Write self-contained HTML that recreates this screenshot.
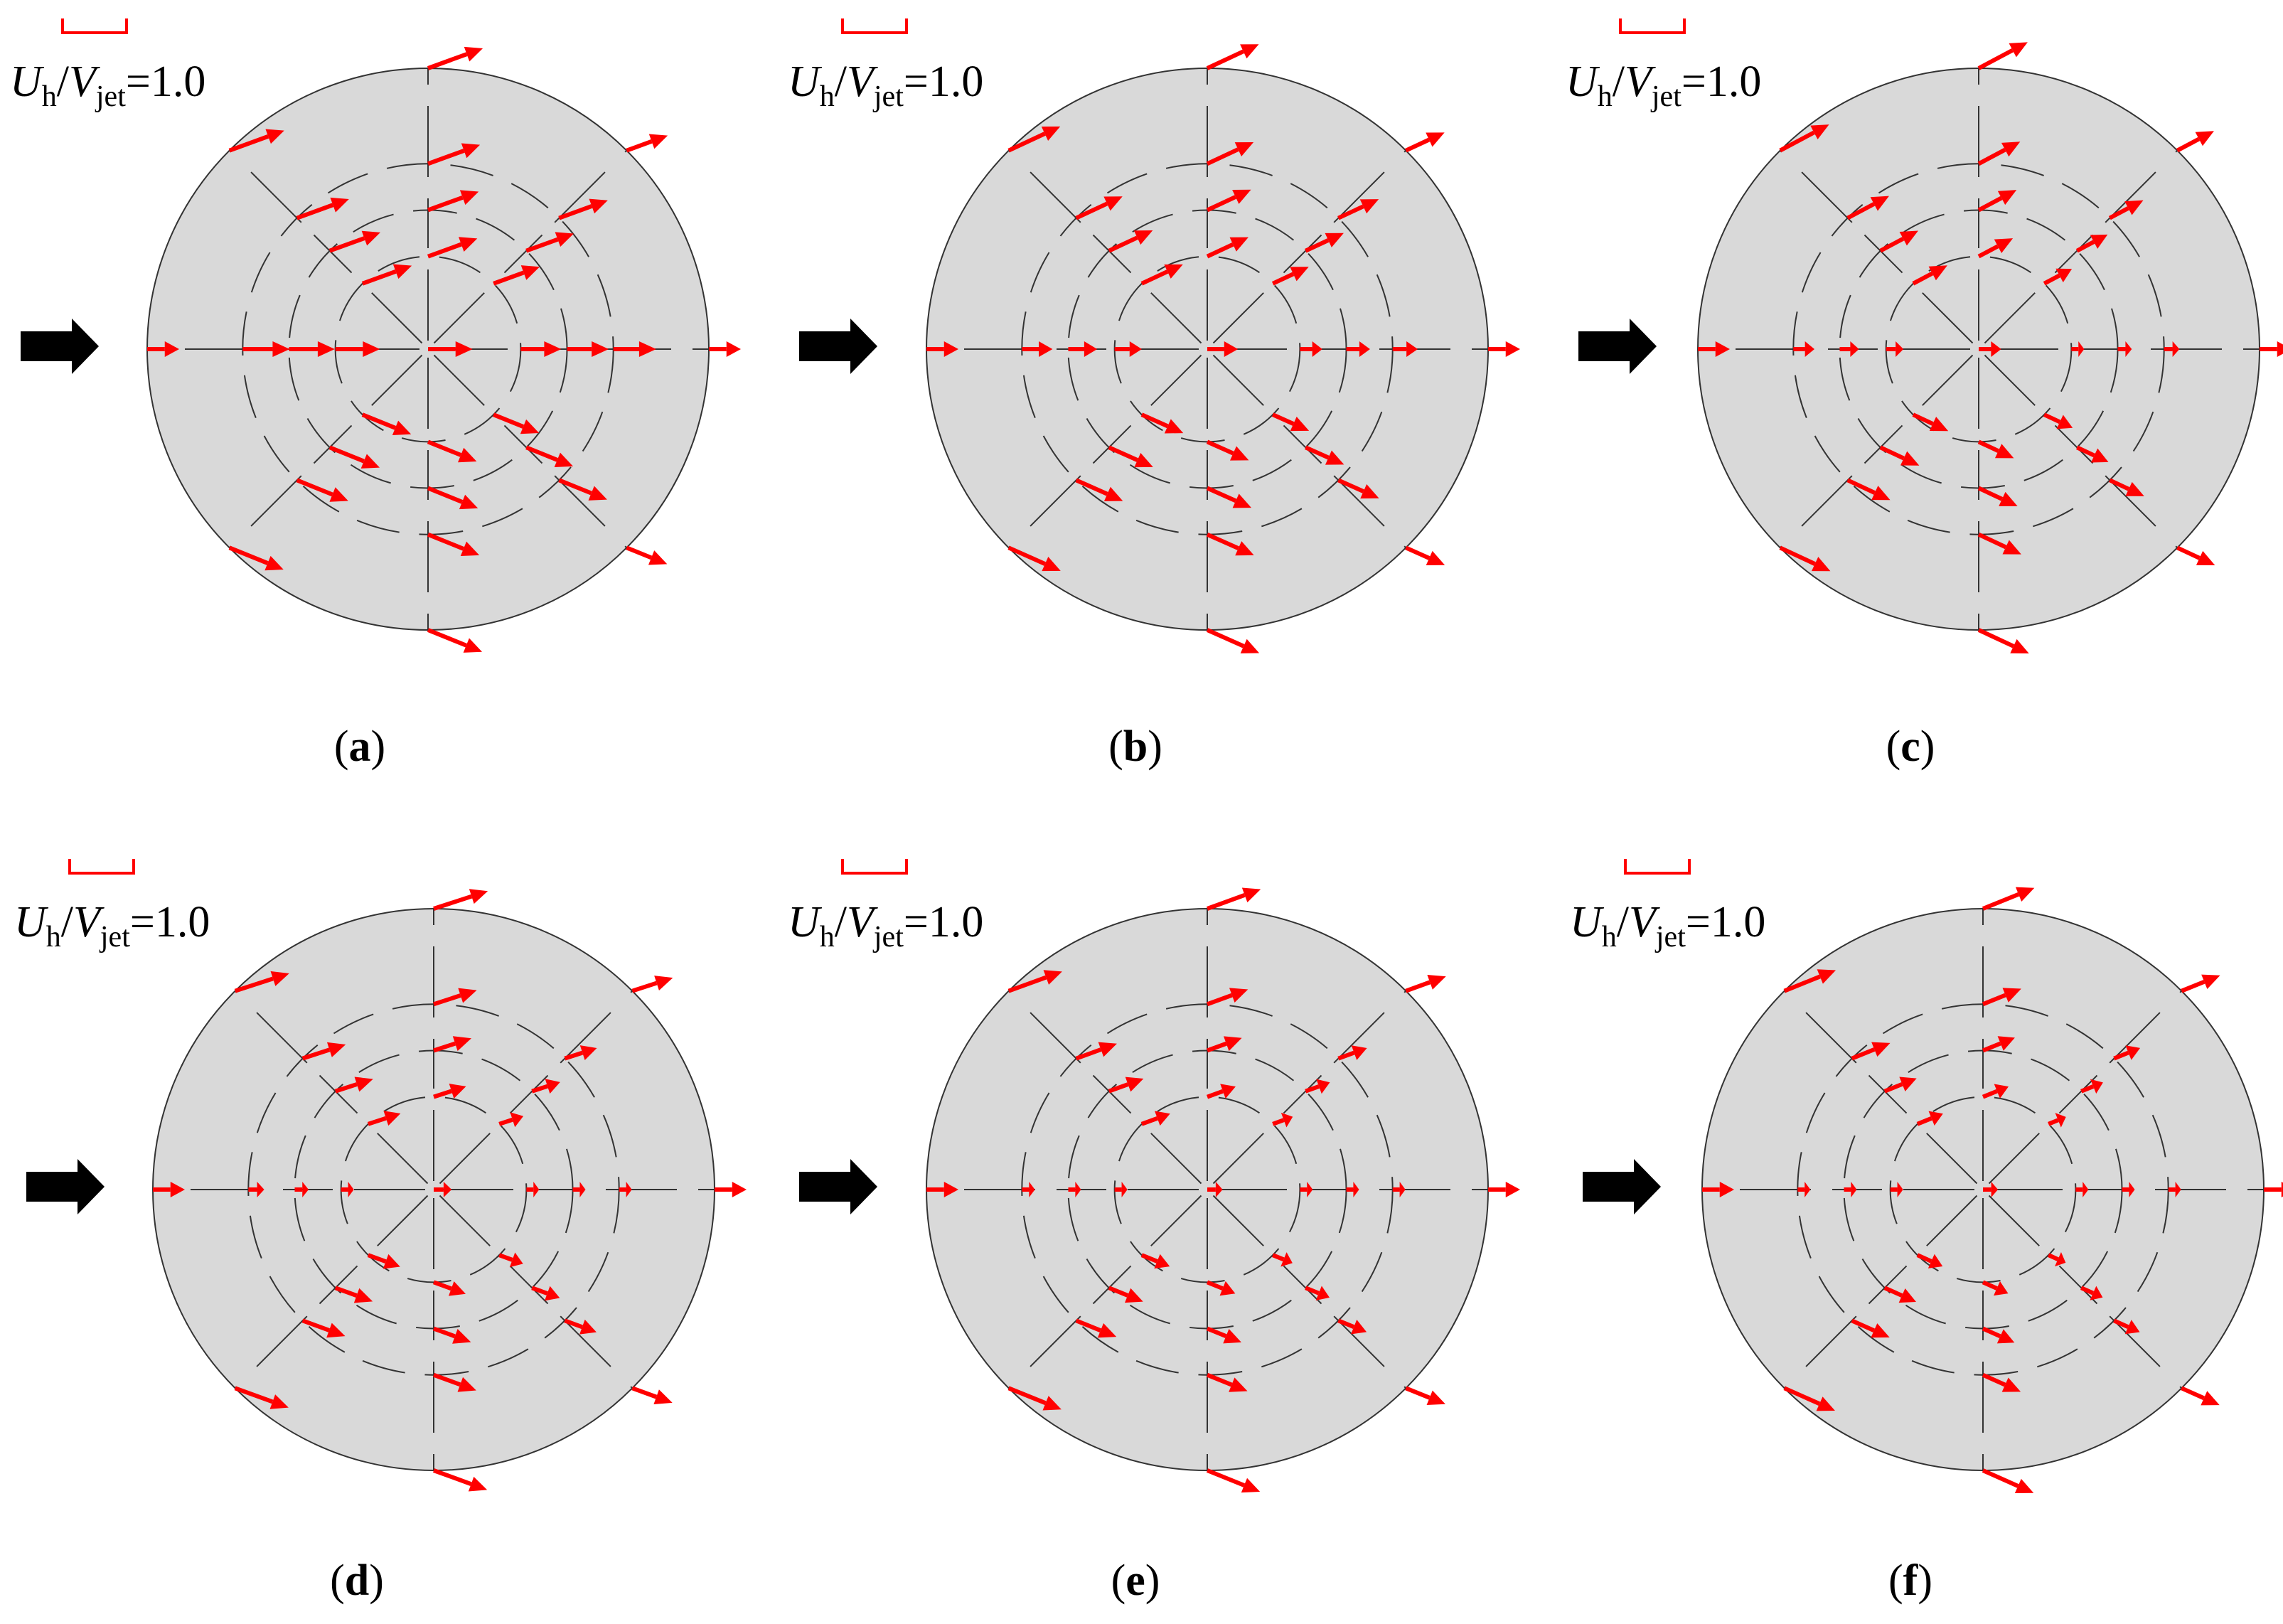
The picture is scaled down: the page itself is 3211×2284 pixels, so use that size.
<!DOCTYPE html>
<html><head><meta charset="utf-8">
<style>
html,body{margin:0;padding:0;background:#fff;}
body{width:3211px;height:2284px;position:relative;overflow:hidden;font-family:"Liberation Serif",serif;}
.lab{position:absolute;font-size:62px;white-space:nowrap;color:#000;}
.lab i{font-style:italic}
.lab sub{font-size:42px;vertical-align:-14px;line-height:0}
.cap{position:absolute;font-size:62px;transform:translateX(-50%);}
.br{position:absolute;width:86px;height:18px;border:4px solid #f00;border-top:none;}
svg{position:absolute;left:0;top:0;}
</style></head><body>
<svg id="s" width="3211" height="2284" xmlns="http://www.w3.org/2000/svg"></svg>

<div class="br" style="left:86px;top:26px"></div>
<div class="lab" style="left:14px;top:80px"><i>U</i><sub>h</sub>/<i>V</i><sub>jet</sub>=1.0</div>
<div class="br" style="left:1183px;top:26px"></div>
<div class="lab" style="left:1108px;top:80px"><i>U</i><sub>h</sub>/<i>V</i><sub>jet</sub>=1.0</div>
<div class="br" style="left:2277px;top:26px"></div>
<div class="lab" style="left:2202px;top:80px"><i>U</i><sub>h</sub>/<i>V</i><sub>jet</sub>=1.0</div>
<div class="br" style="left:96px;top:1208px"></div>
<div class="lab" style="left:20px;top:1262px"><i>U</i><sub>h</sub>/<i>V</i><sub>jet</sub>=1.0</div>
<div class="br" style="left:1183px;top:1208px"></div>
<div class="lab" style="left:1108px;top:1262px"><i>U</i><sub>h</sub>/<i>V</i><sub>jet</sub>=1.0</div>
<div class="br" style="left:2284px;top:1208px"></div>
<div class="lab" style="left:2208px;top:1262px"><i>U</i><sub>h</sub>/<i>V</i><sub>jet</sub>=1.0</div>

<div class="cap" style="left:506px;top:1015px">(<b>a</b>)</div>
<div class="cap" style="left:1597px;top:1015px">(<b>b</b>)</div>
<div class="cap" style="left:2687px;top:1015px">(<b>c</b>)</div>
<div class="cap" style="left:502px;top:2188px">(<b>d</b>)</div>
<div class="cap" style="left:1597px;top:2188px">(<b>e</b>)</div>
<div class="cap" style="left:2687px;top:2188px">(<b>f</b>)</div>

<script>
var s=document.getElementById('s'),h='';
var P=[
 {cx:602,cy:491,ax:29,L:82,up:-20,dn:22,shr:0.15,hz:0.85},
 {cx:1698,cy:491,ax:1124,L:80,up:-25,dn:24,shr:0.3,hz:0.6},
 {cx:2783,cy:491,ax:2220,L:78,up:-28,dn:25,shr:0.45,hz:0.45},
 {cx:610,cy:1673,ax:37,L:80,up:-18,dn:20,shr:0.6,hz:0.35},
 {cx:1698,cy:1673,ax:1124,L:80,up:-20,dn:22,shr:0.7,hz:0.3},
 {cx:2789,cy:1673,ax:2226,L:78,up:-22,dn:24,shr:0.75,hz:0.3}];
var R=395;
P.forEach(function(p){
 var cx=p.cx,cy=p.cy;
 h+='<circle cx="'+cx+'" cy="'+cy+'" r="'+R+'" fill="#d9d9d9" stroke="#333" stroke-width="2"/>';
 [0.33,0.495,0.66].forEach(function(f){
  h+='<circle cx="'+cx+'" cy="'+cy+'" r="'+(R*f)+'" fill="none" stroke="#333" stroke-width="2" stroke-dasharray="62 28"/>';
 });
 for(var k=0;k<8;k++){
  var a=k*Math.PI/4,c=Math.cos(a),d=Math.sin(a);
  h+='<line x1="'+(cx+c*12)+'" y1="'+(cy+d*12)+'" x2="'+(cx+c*R)+'" y2="'+(cy+d*R)+'" stroke="#333" stroke-width="2" stroke-dasharray="'+(k%2?'100 40 75 25':'100 30 70 30')+'"/>';
 }
 var ay=cy-4;
 h+='<polygon points="'+p.ax+','+(ay-21)+' '+(p.ax+72)+','+(ay-21)+' '+(p.ax+72)+','+(ay-39)+' '+(p.ax+110)+','+ay+' '+(p.ax+72)+','+(ay+39)+' '+(p.ax+72)+','+(ay+21)+' '+p.ax+','+(ay+21)+'" fill="#000"/>';
 var fr=[0,0.33,0.495,0.66,1.0];
 fr.forEach(function(f){
  for(var k=0;k<8;k++){
   if(f==0&&k>0)break;
   var a=k*Math.PI/4,x=cx+Math.cos(a)*R*f,y=cy+Math.sin(a)*R*f;
   var sy=Math.round(Math.sin(a)*100)/100;
   var ang=sy<0?p.up:(sy>0?p.dn:0);
   var L=p.L;
   var sx=Math.cos(a);
   if(f<1){ L=L*(1-p.shr*(1-f)) * (1-p.shr*0.6*(sx>0.1?sx:0)); if(f==0)L=p.L*(1-p.shr*1.1);}
   else if(sx>0.1&&sy!=0){L=L*0.75;}
   if(sy==0){ang=0; L=(f==1?45:L*p.hz); if(f==0)L=p.L*p.hz*0.9; if(L<18)L=18;}
   var t=ang*Math.PI/180,ux=Math.cos(t),uy=Math.sin(t);
   var hl=Math.min(24,L*0.45),hw=11;
   var bx=x+ux*(L-hl),by=y+uy*(L-hl),ex=x+ux*L,ey=y+uy*L;
   h+='<line x1="'+x+'" y1="'+y+'" x2="'+bx+'" y2="'+by+'" stroke="#f00" stroke-width="6"/>';
   h+='<polygon points="'+ex+','+ey+' '+(bx-uy*hw)+','+(by+ux*hw)+' '+(bx+uy*hw)+','+(by-ux*hw)+'" fill="#f00"/>';
  }
 });
});
s.innerHTML=h;
</script>
</body></html>
